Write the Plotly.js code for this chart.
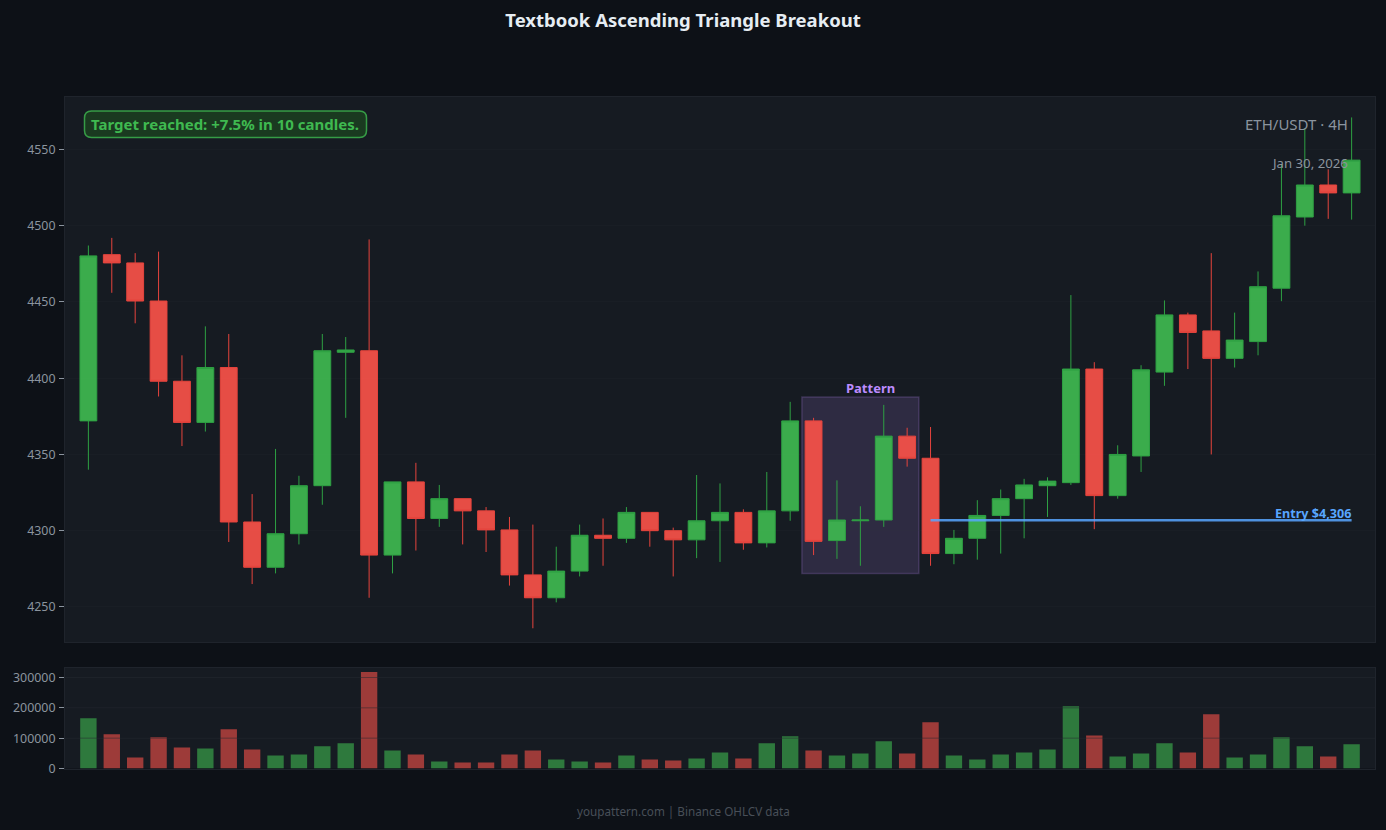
<!DOCTYPE html>
<html>
<head>
<meta charset="utf-8">
<script src="https://cdn.plot.ly/plotly-3.0.1.min.js"></script>
<style>html,body{margin:0;padding:0;background:#0d1117;overflow:hidden}#chart{width:1386px;height:830px}</style>
</head>
<body>
<div id="chart"></div>
<script>
var titleText = "Textbook Ascending Triangle Breakout";
var candleIndex = [0,1,2,3,4,5,6,7,8,9,10,11,12,13,14,15,16,17,18,19,20,21,22,23,24,25,26,27,28,29,30,31,32,33,34,35,36,37,38,39,40,41,42,43,44,45,46,47,48,49,50,51,52,53,54];
var opens  = [4372,4481,4475.6,4450.6,4398,4371,4407,4305.7,4276,4298,4329.5,4417,4418,4284,4332,4308,4321,4313,4300.5,4271,4256,4273.5,4297,4295,4312,4300,4294,4306.5,4312,4292,4313,4372,4293.5,4306.5,4307,4362,4347.5,4285,4295,4310,4321,4329.5,4331.5,4406,4323,4349,4404,4441.5,4431,4413,4424,4459,4505.7,4526.7,4521.5];
var highs  = [4487,4492,4482,4483,4415,4434,4429,4324,4353.6,4336,4429,4427,4491,4332,4344.5,4330,4321,4315.5,4309,4304,4289.5,4304,4308,4315.5,4312,4302,4336.5,4331,4314,4338.5,4384.5,4374,4333,4316,4382.5,4367.5,4368,4300.5,4320,4327,4334,4335,4454.5,4410.5,4356,4408.5,4451,4443,4482,4443,4470,4540,4564,4537,4571];
var lows   = [4340,4456,4436,4388,4355.5,4365,4292.6,4265,4272,4291,4317,4374,4256,4272,4287,4302.5,4291,4286,4264,4236,4253,4270,4277,4292,4289.5,4270,4282,4279.5,4287.5,4289,4306.5,4284,4281.5,4277,4302.5,4342,4277,4278,4281,4285,4295,4309,4330,4301,4321,4338.5,4395,4406,4350,4407,4415,4450.5,4500,4504.5,4504];
var closes = [4480.2,4475.6,4450.6,4398,4371,4407,4305.7,4276,4298,4329.5,4418,4418.5,4284,4332,4308,4321,4313,4300.5,4271,4256,4273.5,4297,4295,4312,4300,4294,4306.5,4312,4292,4313,4372,4293,4307,4307,4362,4347.5,4285,4295,4310,4321,4330,4332.5,4406,4323,4350,4405.5,4441.5,4430,4413,4425,4460,4506.5,4526.7,4521.5,4543];
var volumes = [165800,112700,36500,102800,69600,66300,129300,63000,43100,46400,73000,82900,318000,59700,46400,23200,20000,20000,46400,59700,29800,23200,20000,43100,29800,26500,33100,53000,33100,82900,106000,59700,43100,49700,89500,49700,152500,43100,29800,46400,53000,63000,205500,109000,39800,49700,82900,53000,179000,36500,46400,102800,73000,39800,79600];
var priceTicks = [4250,4300,4350,4400,4450,4500,4550];
var volumeTicks = [0,100000,200000,300000];
var entryX = [36,54];
var entryY = [4306.8,4306.8];
var patternX = [30.5,35.5];
var patternY = [4272,4387.7];

var GRID="rgba(48,54,61,0.13)", FRAME="#1f242c", TICK="#8b949e", FONT="'Noto Sans', sans-serif";
var volColors = closes.map(function(c,i){return c>=opens[i]?"rgba(63,185,80,0.6)":"rgba(248,81,73,0.6)";});
var W=1386,H=830;
function px(x){return x/W;} function py(y){return 1-y/H;}
var bx0=84.5,bx1=366.5,by0=111,by1=137.5,r=7;
var notePath="M "+px(bx0+r)+" "+py(by0)+" L "+px(bx1-r)+" "+py(by0)+" Q "+px(bx1)+" "+py(by0)+" "+px(bx1)+" "+py(by0+r)+" L "+px(bx1)+" "+py(by1-r)+" Q "+px(bx1)+" "+py(by1)+" "+px(bx1-r)+" "+py(by1)+" L "+px(bx0+r)+" "+py(by1)+" Q "+px(bx0)+" "+py(by1)+" "+px(bx0)+" "+py(by1-r)+" L "+px(bx0)+" "+py(by0+r)+" Q "+px(bx0)+" "+py(by0)+" "+px(bx0+r)+" "+py(by0)+" Z";

var traces=[
 {type:"candlestick",x:candleIndex,open:opens,high:highs,low:lows,close:closes,xaxis:"x",yaxis:"y",
  increasing:{line:{color:"#2ea043",width:1},fillcolor:"rgba(63,185,80,0.92)"},
  decreasing:{line:{color:"#e5443d",width:1},fillcolor:"rgba(248,81,73,0.92)"},
  whiskerwidth:0,showlegend:false,hoverinfo:"skip"},
 {type:"scatter",mode:"lines",x:entryX,y:entryY,xaxis:"x",yaxis:"y",line:{color:"#58a6ff",width:2.5},opacity:0.85,showlegend:false,hoverinfo:"skip"},
 {type:"bar",x:candleIndex,y:volumes,xaxis:"x2",yaxis:"y2",width:0.7,marker:{color:volColors,line:{width:0}},showlegend:false,hoverinfo:"skip"}
];
var gridOver = volumeTicks.slice(1).map(function(v){
  return {type:"line",xref:"x2 domain",yref:"y2",x0:0,x1:1,y0:v,y1:v,layer:"above",line:{color:"rgba(33,38,45,0.5)",width:1}};
});
var axisCommon={showline:true,mirror:true,linecolor:FRAME,linewidth:1,zeroline:false};
var layout={
 width:W,height:H,margin:{l:0,r:0,t:0,b:0,autoexpand:false},paper_bgcolor:"#0d1117",plot_bgcolor:"#161b22",
 font:{family:FONT,color:TICK,size:12},showlegend:false,boxgap:0.28,boxgroupgap:0,
 title:{text:"<b>"+titleText+"</b>",x:0.4928,xanchor:"center",y:1-20.5/H,yanchor:"middle",font:{family:FONT,size:18.5,color:"#e6edf3"}},
 xaxis:Object.assign({},axisCommon,{domain:[px(65),px(1375)],range:[-1,55],anchor:"y",showgrid:false,showticklabels:false,ticks:"",rangeslider:{visible:false},type:"linear"}),
 yaxis:Object.assign({},axisCommon,{domain:[py(642),py(97)],range:[4227,4584.4],anchor:"x",tickvals:priceTicks,ticktext:priceTicks.map(String),showgrid:true,gridcolor:GRID,gridwidth:1,ticks:"outside",ticklen:5,tickcolor:TICK,tickwidth:1,ticklabelstandoff:1,tickfont:{size:12.4,color:TICK,family:FONT}}),
 xaxis2:Object.assign({},axisCommon,{domain:[px(65),px(1375)],range:[-1,55],anchor:"y2",showgrid:false,showticklabels:false,ticks:"",type:"linear"}),
 yaxis2:Object.assign({},axisCommon,{domain:[py(768.5),py(667.5)],range:[0,333000],anchor:"x2",tickvals:volumeTicks,ticktext:volumeTicks.map(String),showgrid:true,gridcolor:GRID,gridwidth:1,ticks:"outside",ticklen:5,tickcolor:TICK,tickwidth:1,ticklabelstandoff:1,tickfont:{size:12.4,color:TICK,family:FONT}}),
 shapes:[
  {type:"rect",xref:"x",yref:"y",x0:patternX[0],x1:patternX[1],y0:patternY[0],y1:patternY[1],layer:"below",fillcolor:"rgba(188,140,255,0.15)",line:{color:"rgba(188,140,255,0.2)",width:1.5}},
  {type:"path",xref:"paper",yref:"paper",path:notePath,layer:"above",fillcolor:"#1a3a20",line:{color:"rgba(63,185,80,0.8)",width:1.5}}
 ].concat(gridOver),
 annotations:[
  {xref:"paper",yref:"paper",x:px(225),y:py(124),text:"<b>Target reached: +7.5% in 10 candles.</b>",showarrow:false,xanchor:"center",yanchor:"middle",font:{family:FONT,size:15,color:"#3fb950"}},
  {xref:"paper",yref:"paper",x:px(1350),y:py(124),text:"ETH/USDT · 4H",showarrow:false,xanchor:"right",yanchor:"middle",font:{family:FONT,size:15,color:"#8b949e"}},
  {xref:"paper",yref:"paper",x:px(1350),y:py(162.5),text:"Jan 30, 2026",showarrow:false,xanchor:"right",yanchor:"middle",font:{family:FONT,size:13.2,color:"#8b949e"}},
  {xref:"paper",yref:"paper",x:px(870.5),y:py(388.5),text:"<b>Pattern</b>",showarrow:false,xanchor:"center",yanchor:"middle",font:{family:FONT,size:13,color:"#bc8cff"}},
  {xref:"paper",yref:"paper",x:px(1353),y:py(513),text:"<b>Entry $4,306</b>",showarrow:false,xanchor:"right",yanchor:"middle",font:{family:FONT,size:12.6,color:"#58a6ff"}},
  {xref:"paper",yref:"paper",x:px(683),y:py(811),text:"youpattern.com | Binance OHLCV data",showarrow:false,xanchor:"center",yanchor:"middle",font:{family:FONT,size:11.7,color:"#484f58"}}
 ]
};
Plotly.newPlot("chart",traces,layout,{displayModeBar:false,responsive:false});
</script>
</body>
</html>
